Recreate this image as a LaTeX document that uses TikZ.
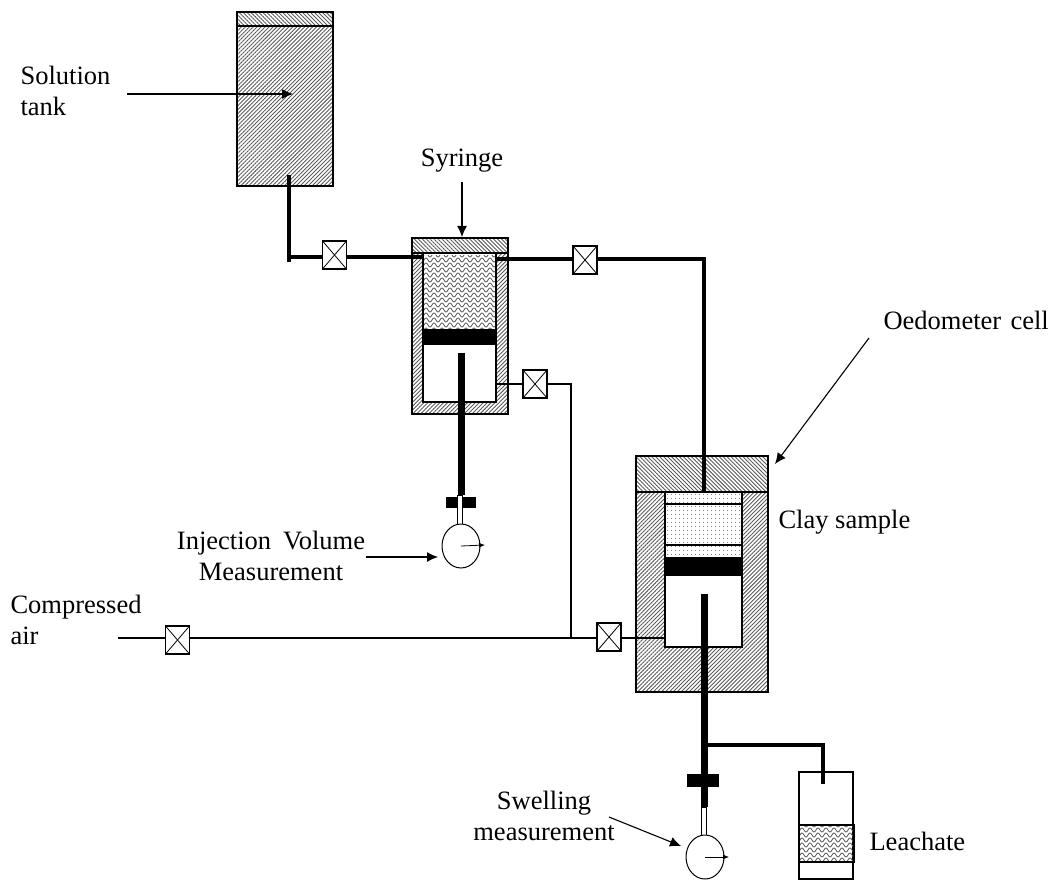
\documentclass[tikz,border=0pt]{standalone}
\usepackage{fontspec}
\setmainfont{Liberation Serif}
\usetikzlibrary{positioning, arrows.meta, shapes.geometric, patterns.meta}

\pgfdeclarepatternformonly{wavy}{\pgfqpoint{-1pt}{-1pt}}{\pgfqpoint{9pt}{6pt}}{\pgfqpoint{8pt}{5pt}}{
    \pgfsetlinewidth{0.8pt}
    \pgfpathmoveto{\pgfqpoint{0pt}{2pt}}
    \pgfpathcurveto{\pgfqpoint{1.3pt}{4.6pt}}{\pgfqpoint{2.7pt}{4.6pt}}{\pgfqpoint{4pt}{2pt}}
    \pgfpathcurveto{\pgfqpoint{5.3pt}{-0.6pt}}{\pgfqpoint{6.7pt}{-0.6pt}}{\pgfqpoint{8pt}{2pt}}
    \pgfusepath{stroke}
}

\begin{document}
\begin{tikzpicture}[
    x=1pt, y=-1pt,
    font=\fontsize{26.5}{31}\selectfont,
    wall/.style={draw, line width=1.3pt, pattern={Lines[angle=45, distance=2.8pt, line width=0.9pt]}, pattern color=black!65},
    lid/.style={draw, line width=1.3pt, pattern={Lines[angle=-45, distance=2.8pt, line width=0.9pt]}, pattern color=black!65},
    bore/.style={draw, line width=1.3pt, fill=white},
    water/.style={pattern=wavy, pattern color=black!65},
    soil/.style={pattern={Dots[radius=0.6pt, distance=4pt]}, pattern color=black!85},
    valve/.style={
        rectangle, draw, fill=white, line width=1.2pt, inner sep=0pt,
        minimum width=24pt, minimum height=28pt,
        path picture={
            \draw[line width=0.8pt] (path picture bounding box.north west) -- (path picture bounding box.south east);
            \draw[line width=0.8pt] (path picture bounding box.north east) -- (path picture bounding box.south west);
        }
    },
    gauge/.style={ellipse, draw, fill=white, line width=1pt, inner sep=0pt, minimum width=38pt, minimum height=44pt},
    pipe/.style={line width=3.6pt},
    tube/.style={line width=1.8pt},
    rod/.style={line width=7pt},
    note/.style={-{Latex[length=11pt, width=10pt]}, line width=1.1pt},
    needle/.style={-{Latex[length=6pt, width=5pt]}, line width=0.8pt}
]

\useasboundingbox (0,0) rectangle (1056,882);

% Solution tank
\draw[wall] (237,26) rectangle (333,186);
\draw[lid] (237,12) rectangle (333,26);
\coordinate (tankout) at (289,175);
\node[anchor=west, align=left] (tanklabel) at (17,91) {Solution\\tank};
\coordinate (tanktip) at (293,94);
\draw[note] (127,94) -- (tanktip);

% Syringe
\draw[wall] (412,253) rectangle (508,414);
\draw[lid] (412,238) rectangle (508,253);
\draw[bore] (423,253) rectangle (496,402);
\fill[water] (424,256) rectangle (495,329);
\fill (423,329) rectangle (496,345);
\node (syringelabel) at (462,161) {Syringe};
\coordinate (syringetop) at (462,237);
\draw[note] (462,182) -- (syringetop);
\coordinate (syringeleft) at (423,257);
\coordinate (syringeright) at (496,259);
\coordinate (syringeside) at (496,384);

% Syringe rod and gauge
\coordinate (rodtop) at (461,353);
\coordinate (rodend) at (461,495);
\draw[rod] (rodtop) -- (rodend);
\fill (446,497) rectangle (476,508);
\draw[fill=white, line width=1pt] (457,495) rectangle (462,524);
\node[gauge] (gaugea) at (461,546) {};
\coordinate (tipa) at (485,545);
\draw[needle] (gaugea.center) -- (tipa);
\node[align=center] (injlabel) at (271,556) {Injection\hspace{0.2em} Volume\\Measurement};
\coordinate (injtip) at (438,557);
\draw[note] (366,557) -- (injtip);

% Oedometer cell
\draw[wall] (636,492) rectangle (768,692);
\draw[lid] (636,456) rectangle (768,492);
\draw[bore] (665,492) rectangle (742,647);
\fill[soil] (666,493) rectangle (741,557);
\draw[line width=1.2pt] (665,504) -- (742,504);
\draw[line width=1.2pt] (665,545) -- (742,545);
\fill (665,557) rectangle (742,576);
\coordinate (celltop) at (704,492);
\coordinate (cellside) at (665,638);
\node[anchor=west] (celllabel) at (880,320) {Oedometer\hspace{0.1em} cell};
\coordinate (celltip) at (775,464);
\draw[note] (869,338) -- (celltip);
\node[anchor=west] (claylabel) at (775,522) {Clay sample};

% Cell rod and gauge
\coordinate (rodb) at (704,594);
\coordinate (rodc) at (704,807);
\draw[rod] (rodb) -- (rodc);
\fill (687,774) rectangle (719,787);
\draw[fill=white, line width=1pt] (701,807) rectangle (706,836);
\node[gauge] (gaugeb) at (705,857) {};
\coordinate (tipb) at (729,857);
\draw[needle] (gaugeb.center) -- (tipb);
\node[align=center] (swelllabel) at (544,816) {Swelling\\measurement};
\coordinate (swelltip) at (681,846);
\draw[note] (609,817) -- (swelltip);

% Leachate bottle
\draw[line width=1.2pt, fill=white] (799,772) rectangle (853,879);
\fill[water] (800,826) rectangle (853,861);
\draw[line width=1.4pt] (799,825) rectangle (854,862);
\node[anchor=west] (leachlabel) at (866,841) {Leachate};
\coordinate (leachin) at (823,784);
\coordinate (branch) at (707,745);

% Valves
\node[valve] (va) at (334.5,255) {};
\node[valve] (vb) at (585,260) {};
\node[valve] (vc) at (535,384) {};
\node[valve] (vd) at (177.5,640) {};
\node[valve] (ve) at (609,637) {};

% Pipes
\coordinate (pipeend) at (289,262);
\draw[pipe] (tankout) -- (pipeend);
\draw[pipe] (289,257) -- (va.west |- 0,257);
\draw[pipe] (va.east |- 0,257) -- (syringeleft);
\draw[pipe] (syringeright) -- (vb.west |- 0,259);
\draw[pipe] (vb.east |- 0,259) -- (celltop |- 0,259) -- (celltop);
\draw[pipe, line join=miter] (branch) -- (leachin |- branch) -- (leachin);

% Air lines
\coordinate (airstart) at (118,638);
\coordinate (airjoin) at (571,638);
\draw[tube] (syringeside) -- (vc.west |- syringeside);
\draw[tube] (vc.east |- syringeside) -- (571,384) -- (airjoin);
\draw[tube] (airstart) -- (vd.west |- airstart);
\draw[tube] (vd.east |- airstart) -- (ve.west |- airstart);
\draw[tube] (ve.east |- airstart) -- (cellside);
\node[anchor=west, align=left] (airlabel) at (7,620) {Compressed\\air};

\end{tikzpicture}
\end{document}
